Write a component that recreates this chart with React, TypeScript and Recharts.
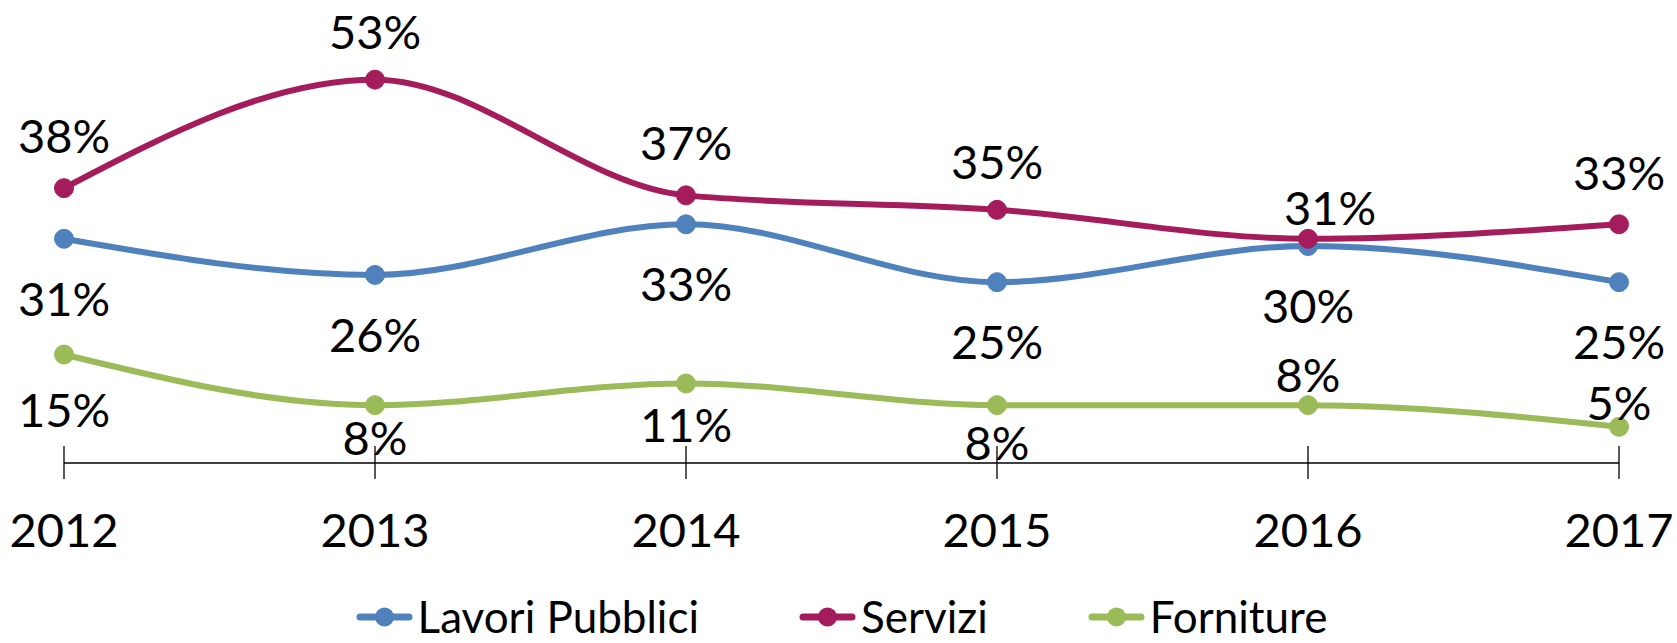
import React from 'react';
import { LineChart, Line, XAxis, YAxis, Legend, LabelList } from 'recharts';

const years = ['2012', '2013', '2014', '2015', '2016', '2017'];
const lavoriPubblici = [31, 26, 33, 25, 30, 25];
const servizi = [38, 53, 37, 35, 31, 33];
const forniture = [15, 8, 11, 8, 8, 5];

const data = years.map((year, i) => ({
  year,
  lavori: lavoriPubblici[i],
  servizi: servizi[i],
  forniture: forniture[i],
}));

const FONT = 'Lato, "Open Sans", sans-serif';

const SERIES = [
  { key: 'lavori', name: 'Lavori Pubblici', color: '#4F81BD' },
  { key: 'servizi', name: 'Servizi', color: '#A41C5B' },
  { key: 'forniture', name: 'Forniture', color: '#9BBB59' },
];

// where the data labels sit relative to their point (px), as placed in the original
const LABEL_DY: Record<string, number[]> = {
  lavori: [60, 60, 60, 60, 60, 60],
  servizi: [-52, -48, -52, -48, -31, -51],
  forniture: [55, 33, 42, 38, -30, -24],
};
const LABEL_DX: Record<string, number[]> = {
  servizi: [0, 0, 0, 0, 22, 0],
};

const makeLabel = (key: string) => (props: any) => {
  const { x, y, value, index } = props;
  const dy = LABEL_DY[key]?.[index] ?? 0;
  const dx = LABEL_DX[key]?.[index] ?? 0;
  return (
    <text x={x + dx} y={y + dy + 17} textAnchor="middle" fontSize={47} fontFamily={FONT} fill="#000">
      {`${value}%`}
    </text>
  );
};

const YearTick = (props: any) => {
  const { x, y, payload } = props;
  return (
    <g>
      <line x1={x} x2={x} y1={y - 17} y2={y + 16} stroke="#000" strokeWidth={1.3} />
      <text x={x} y={y + 84} textAnchor="middle" fontSize={47} fontFamily={FONT} fill="#000">
        {payload.value}
      </text>
    </g>
  );
};

const renderLegend = () => (
  <div style={{ display: 'flex', justifyContent: 'center', alignItems: 'flex-start', gap: 100, height: 50, paddingTop: 3, boxSizing: 'border-box' }}>
    {SERIES.map((s) => (
      <div key={s.key} style={{ display: 'flex', alignItems: 'center', height: 40 }}>
        <svg width={57} height={22} style={{ marginTop: 2 }}>
          <line x1={4} x2={53} y1={11} y2={11} stroke={s.color} strokeWidth={7} strokeLinecap="round" />
          <circle cx={28.5} cy={11} r={9.5} fill={s.color} />
        </svg>
        <span style={{ marginLeft: 5, fontSize: 44, fontFamily: FONT, color: '#000', lineHeight: '40px' }}>{s.name}</span>
      </div>
    ))}
  </div>
);

export default function App() {
  return (
    <div style={{ position: 'fixed', left: 0, top: 0, width: 1677, height: 643, background: '#fff' }}>
      <LineChart width={1677} height={643} data={data} margin={{ top: 29, right: 58, left: 64, bottom: 0 }}>
        <YAxis hide domain={[0, 60]} />
        <XAxis
          dataKey="year"
          height={130}
          axisLine={{ stroke: '#000', strokeWidth: 1.3 }}
          tickLine={false}
          tickSize={0}
          tickMargin={0}
          tick={<YearTick />}
          interval={0}
        />
        <Legend verticalAlign="bottom" height={50} content={renderLegend} />
        {SERIES.map((s) => (
          <Line
            key={s.key}
            dataKey={s.key}
            name={s.name}
            type="monotone"
            stroke={s.color}
            strokeWidth={6}
            dot={{ r: 9.5, fill: s.color, stroke: s.color, strokeWidth: 1 }}
            activeDot={false}
            isAnimationActive={false}
          >
            <LabelList dataKey={s.key} content={makeLabel(s.key)} />
          </Line>
        ))}
      </LineChart>
    </div>
  );
}
